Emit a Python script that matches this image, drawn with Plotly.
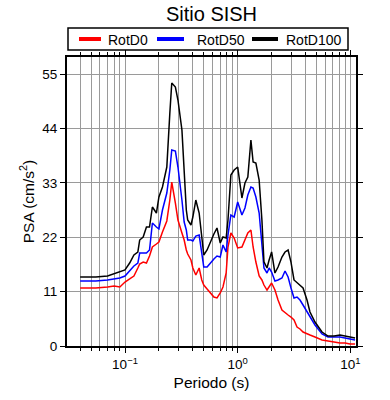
import plotly.graph_objects as go

periods = [0.04, 0.055, 0.07, 0.08, 0.09, 0.1, 0.11, 0.12, 0.13, 0.135, 0.145, 0.155, 0.165,
           0.175, 0.19, 0.20, 0.215, 0.235, 0.25, 0.26, 0.28, 0.295, 0.32, 0.335, 0.35, 0.36,
           0.385, 0.40, 0.425, 0.455, 0.48, 0.50, 0.535, 0.58, 0.615, 0.655, 0.70, 0.74, 0.79,
           0.82, 0.87, 0.93, 1.0, 1.09, 1.16, 1.23, 1.31, 1.37, 1.45, 1.55, 1.64, 1.71, 1.82,
           1.90, 2.0, 2.14, 2.28, 2.47, 2.63, 2.8, 2.97, 3.16, 3.36, 3.57, 3.8, 4.12, 4.38,
           4.85, 5.6, 6.33, 7.15, 8.09, 8.96, 9.92, 11.0]

rotd100 = [13.95, 13.95, 14.15, 14.56, 14.96, 15.37, 16.78, 18.40, 19.01, 21.43, 22.04, 24.06,
           24.06, 28.11, 26.89, 30.13, 32.15, 36.19, 47.11, 53.18, 52.37, 49.74, 43.68, 35.59,
           27.50, 25.48, 24.47, 26.08, 29.52, 26.89, 22.04, 18.40, 19.41, 21.43, 22.65, 23.86,
           20.83, 22.04, 21.84, 25.48, 34.58, 35.59, 36.19, 29.93, 32.96, 34.17, 41.65, 37.20,
           37.00, 33.57, 25.48, 17.00, 15.77, 17.39, 19.01, 14.76, 15.97, 18.00, 19.01, 19.41,
           16.98, 13.35, 12.74, 12.33, 11.73, 9.30, 6.87, 4.85, 2.83, 2.02, 2.02, 2.22, 2.02,
           1.82, 1.62]

rotd50 = [13.14, 13.14, 13.35, 13.55, 13.75, 14.15, 15.17, 16.18, 16.78, 18.80, 18.80, 18.80,
          19.41, 24.87, 24.06, 23.66, 27.50, 30.94, 35.59, 39.63, 39.43, 36.19, 29.52, 25.07,
          23.46, 21.43, 21.43, 21.23, 22.24, 22.44, 18.80, 15.97, 15.97, 16.98, 17.59, 18.20,
          18.00, 20.42, 19.01, 22.44, 26.49, 26.08, 29.12, 26.49, 27.90, 30.53, 32.15, 31.95,
          30.13, 26.89, 19.41, 15.77, 14.76, 15.77, 14.96, 13.14, 13.35, 13.75, 15.17, 13.95,
          11.73, 9.71, 9.91, 9.30, 8.29, 6.87, 5.86, 4.25, 2.43, 1.82, 1.82, 1.82, 1.62,
          1.42, 1.21]

rotd0 = [11.73, 11.73, 11.93, 12.13, 11.93, 12.94, 13.55, 14.15, 15.77, 16.58, 16.98, 16.78,
         18.20, 20.02, 20.62, 21.03, 23.05, 25.28, 29.52, 33.16, 28.91, 25.48, 22.85, 21.43,
         19.41, 18.60, 17.39, 15.77, 14.36, 15.77, 13.35, 12.33, 11.53, 10.51, 9.91, 9.71,
         10.72, 11.93, 14.76, 20.02, 22.85, 21.84, 19.82, 20.02, 21.43, 22.85, 23.46, 20.02,
         16.98, 14.15, 13.35, 12.33, 11.32, 11.93, 12.74, 11.32, 9.30, 7.28, 6.67, 6.27,
         5.86, 5.26, 3.84, 3.44, 2.83, 2.43, 2.22, 1.82, 1.21, 1.01, 0.81, 0.61, 0.61,
         0.40, 0.40]

series_names = ["RotD0", "RotD50", "RotD100"]
series_colors = ["#ff0000", "#0000ff", "#000000"]
series_values = [rotd0, rotd50, rotd100]

x_major = [0.1, 1, 10]
x_major_text = ["10<sup>\u22121</sup>", "10<sup>0</sup>", "10<sup>1</sup>"]
x_minor = [0.04, 0.05, 0.06, 0.07, 0.08, 0.09, 0.2, 0.3, 0.4, 0.5, 0.6, 0.7, 0.8, 0.9,
           2, 3, 4, 5, 6, 7, 8, 9]
y_ticks = [0, 11, 22, 33, 44, 55]

W, H = 390, 400
ML, MR, MT, MB = 67, 34, 57, 54
PW, PH = W - ML - MR, H - MT - MB


def px_x(px):
    return (px - ML) / PW


def px_y(py):
    return (H - MB - py) / PH


fig = go.Figure()
for name, color, vals in zip(series_names, series_colors, series_values):
    fig.add_trace(go.Scatter(x=periods, y=vals, mode="lines", name=name,
                             line=dict(color=color, width=1.5), showlegend=False))

# manual legend box (GMT style)
shapes = [dict(type="rect", xref="paper", yref="paper",
               x0=px_x(68), x1=px_x(348), y0=px_y(50), y1=px_y(28),
               line=dict(color="black", width=1.5), fillcolor="white", layer="above")]
annotations = []
legend_lines = [(79, 101), (157, 184), (252, 278)]
legend_text_x = [106, 195, 284]
for (x0, x1), tx, name, color in zip(legend_lines, legend_text_x, series_names, series_colors):
    shapes.append(dict(type="line", xref="paper", yref="paper",
                       x0=px_x(x0), x1=px_x(x1), y0=px_y(39), y1=px_y(39),
                       line=dict(color=color, width=4), layer="above"))
    annotations.append(dict(text=name, xref="paper", yref="paper", x=px_x(tx), y=px_y(39.5),
                            xanchor="left", yanchor="middle", showarrow=False,
                            font=dict(size=14, color="black")))

font_family = "Liberation Sans, Arial, sans-serif"
fig.update_layout(
    width=W, height=H,
    margin=dict(l=ML, r=MR, t=MT, b=MB),
    paper_bgcolor="white", plot_bgcolor="white",
    font=dict(family=font_family, color="black", size=13.5),
    showlegend=False,
    shapes=shapes, annotations=annotations,
    title=dict(text="Sitio SISH", x=px_x(211.5), xref="paper", y=1 - 14 / H, yref="container",
               yanchor="middle", xanchor="center", font=dict(size=20, color="black")),
    xaxis=dict(type="log", range=[-1.5146, 1.0497], automargin=False,
               tickvals=x_major, ticktext=x_major_text,
               ticks="outside", ticklen=5, tickwidth=1, tickcolor="black",
               showline=True, linecolor="black", linewidth=2, mirror="allticks",
               showgrid=True, gridcolor="#9a9a9a", gridwidth=1,
               minor=dict(tickvals=x_minor, ticks="outside", ticklen=3, tickcolor="black",
                          showgrid=True, gridcolor="#9a9a9a", gridwidth=1),
               title=dict(text="Periodo (s)", font=dict(size=15.5), standoff=6),
               zeroline=False),
    yaxis=dict(range=[0, 58.44], tickvals=y_ticks, automargin=False,
               ticks="outside", ticklen=5, tickwidth=1, tickcolor="black",
               showline=True, linecolor="black", linewidth=2, mirror="allticks",
               showgrid=True, gridcolor="#9a9a9a", gridwidth=1,
               title=dict(text="PSA (cm/s<sup>2</sup>)", font=dict(size=15.5), standoff=4),
               zeroline=False),
)

fig.write_html("out.html", config={"displayModeBar": False},
               post_script="document.body.style.margin='0';document.body.style.overflow='hidden';")
